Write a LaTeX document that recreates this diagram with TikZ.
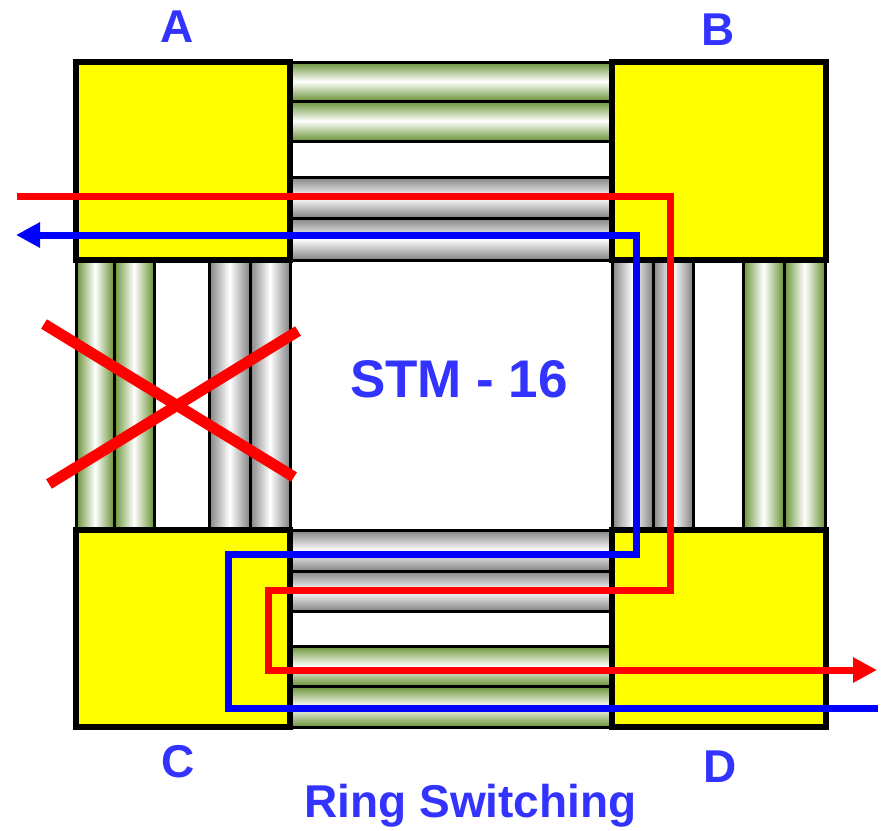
\documentclass[tikz,border=0pt]{standalone}
\usepackage{fontspec}
\setmainfont{Liberation Sans}
\usetikzlibrary{arrows.meta}
\definecolor{lblue}{RGB}{51,51,255}
\definecolor{tgreen}{RGB}{104,146,52}
\definecolor{tgray}{RGB}{130,130,130}
\definecolor{byellow}{RGB}{255,255,0}
\definecolor{pred}{RGB}{255,0,0}
\definecolor{pblue}{RGB}{0,0,255}
\begin{document}
\begin{tikzpicture}[x=1pt,y=-1pt,
  htube/.style={top color=#1,bottom color=#1,middle color=white,draw=black,line width=3pt},
  vtube/.style={left color=#1,right color=#1,middle color=white,draw=black,line width=3pt},
  box/.style={draw=black,line width=6pt,fill=byellow,rectangle,inner sep=0pt,outer sep=0pt,
    minimum width=214pt,minimum height=#1},
  lbl/.style={text=lblue,font=\fontsize{46}{50}\selectfont\bfseries,inner sep=0pt},
  redline/.style={draw=pred,line width=7pt,line join=miter},
  blueline/.style={draw=pblue,line width=7pt,line join=miter},
  cross/.style={draw=pred,line width=11pt}]
\useasboundingbox (0,0) rectangle (882,830);
% top tubes (A-B)
\shadedraw[htube=tgreen] (290,62) rectangle (612,101);
\shadedraw[htube=tgreen] (290,101) rectangle (612,141);
\draw[black,line width=3pt] (290,141) -- (612,141);
\shadedraw[htube=tgray] (290,177) rectangle (612,218);
\shadedraw[htube=tgray] (290,218) rectangle (612,260);
% bottom tubes (C-D)
\shadedraw[htube=tgray] (290,530) rectangle (612,571);
\shadedraw[htube=tgray] (290,571) rectangle (612,611);
\shadedraw[htube=tgreen] (290,646) rectangle (612,686);
\shadedraw[htube=tgreen] (290,686) rectangle (612,727);
% left tubes (A-C)
\shadedraw[vtube=tgreen] (76,260) rectangle (114,530);
\shadedraw[vtube=tgreen] (114,260) rectangle (154,530);
\shadedraw[vtube=tgray] (209,260) rectangle (250,530);
\shadedraw[vtube=tgray] (250,260) rectangle (290,530);
% right tubes (B-D)
\shadedraw[vtube=tgray] (612,260) rectangle (653,530);
\shadedraw[vtube=tgray] (653,260) rectangle (693,530);
\shadedraw[vtube=tgreen] (743,260) rectangle (784,530);
\shadedraw[vtube=tgreen] (784,260) rectangle (825,530);
% boxes
\node[box=198pt] (A) at (183,161) {};
\node[box=198pt] (B) at (718.5,161) {};
\node[box=197pt] (C) at (183,628.5) {};
\node[box=197pt] (D) at (718.5,628.5) {};
% red path
\coordinate (r0) at (17,196);
\coordinate (r1) at (670,196);
\coordinate (r2) at (670,590);
\coordinate (r3) at (268,590);
\coordinate (r4) at (268,670);
\coordinate (r5) at (877,670);
\draw[redline,-{Triangle[length=24pt,width=24pt]}] (r0) -- (r1) -- (r2) -- (r3) -- (r4) -- (r5);
% blue path
\coordinate (b0) at (878,708);
\coordinate (b1) at (228,708);
\coordinate (b2) at (228,554);
\coordinate (b3) at (636,554);
\coordinate (b4) at (636,235);
\coordinate (b5) at (16,235);
\draw[blueline,-{Triangle[length=24pt,width=24pt]}] (b0) -- (b1) -- (b2) -- (b3) -- (b4) -- (b5);
% cross
\coordinate (x1) at (44,324);
\coordinate (x2) at (294,477);
\coordinate (x3) at (49,484);
\coordinate (x4) at (298,331);
\draw[cross] (x1) -- (x2);
\draw[cross] (x3) -- (x4);
% labels
\node[lbl] (la) at (177,26.5) {A};
\node[lbl] (lb) at (718,30) {B};
\node[lbl] (lc) at (178,761.5) {C};
\node[lbl] (ld) at (720,766.5) {D};
\node[lbl,font=\fontsize{53}{58}\selectfont\bfseries] (stm) at (459,379) {STM - 16};
\node[lbl,anchor=base] (ring) at (470.5,817) {Ring Switching};
\end{tikzpicture}
\end{document}
